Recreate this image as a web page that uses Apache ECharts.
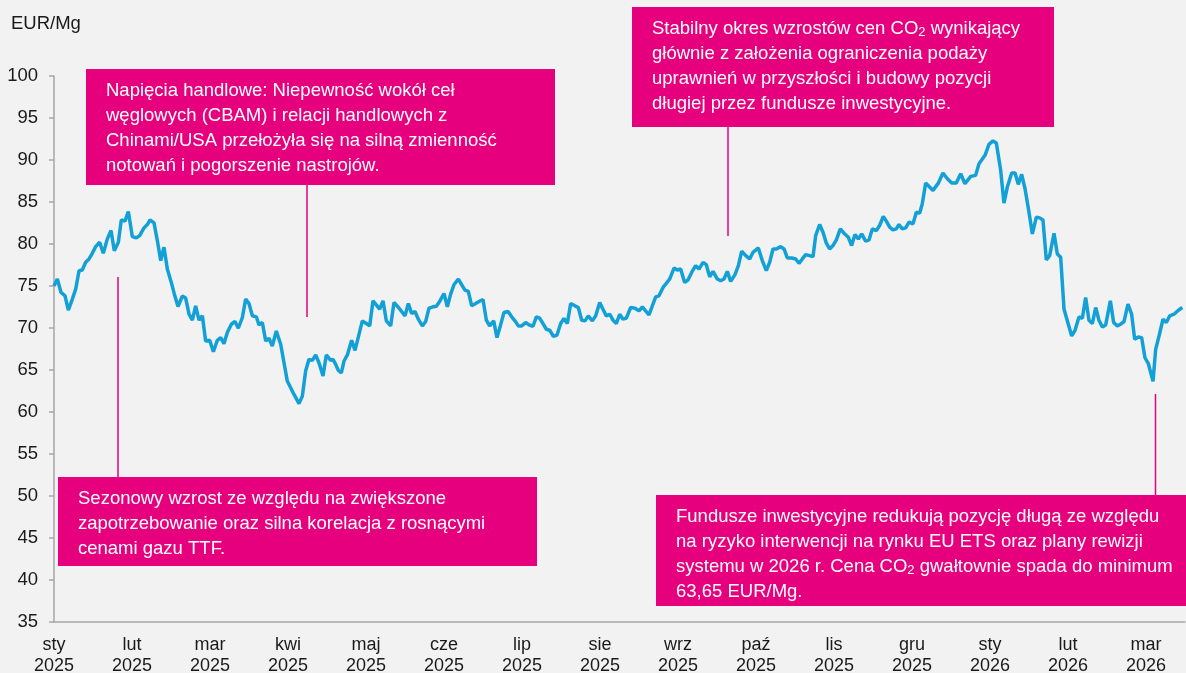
<!DOCTYPE html>
<html>
<head>
<meta charset="utf-8">
<script src="https://cdn.jsdelivr.net/npm/echarts@6/dist/echarts.min.js"></script>
<style>
  html, body { margin: 0; padding: 0; background: #F2F2F2; }
  #chart { width: 1186px; height: 673px; }
</style>
</head>
<body>
<div id="chart"></div>
<script>
// etykiety miesięcy (oś X, pozycja = numer miesiąca od sty 2025)
const monthLabels = ['sty\n2025', 'lut\n2025', 'mar\n2025', 'kwi\n2025', 'maj\n2025', 'cze\n2025',
  'lip\n2025', 'sie\n2025', 'wrz\n2025', 'paź\n2025', 'lis\n2025', 'gru\n2025',
  'sty\n2026', 'lut\n2026', 'mar\n2026'];

// pozycja notowania w miesiącach od początku 2025
const monthPos = [
  0, 0.043, 0.090, 0.141, 0.184, 0.235, 0.278, 0.321, 0.363, 0.406, 0.449, 0.491, 0.534, 0.585, 0.632, 0.684,
  0.731, 0.773, 0.825, 0.863, 0.910, 0.953, 1.004, 1.056, 1.098, 1.154, 1.197, 1.231, 1.282, 1.325, 1.368, 1.410,
  1.453, 1.504, 1.543, 1.590, 1.645, 1.688, 1.731, 1.774, 1.816, 1.859, 1.902, 1.944, 1.996, 2.043, 2.094, 2.137,
  2.179, 2.222, 2.274, 2.321, 2.363, 2.415, 2.457, 2.500, 2.543, 2.594, 2.628, 2.671, 2.714, 2.756, 2.799, 2.850,
  2.906, 2.949, 2.991, 3.034, 3.077, 3.141, 3.184, 3.226, 3.269, 3.312, 3.355, 3.397, 3.449, 3.491, 3.547, 3.577,
  3.611, 3.645, 3.684, 3.718, 3.761, 3.816, 3.859, 3.910, 3.953, 4.004, 4.047, 4.090, 4.132, 4.175, 4.218, 4.261,
  4.316, 4.359, 4.410, 4.457, 4.500, 4.543, 4.585, 4.628, 4.671, 4.722, 4.765, 4.808, 4.859, 4.902, 4.944, 5.000,
  5.043, 5.085, 5.128, 5.184, 5.226, 5.269, 5.312, 5.355, 5.406, 5.449, 5.500, 5.543, 5.585, 5.637, 5.679, 5.722,
  5.769, 5.821, 5.868, 5.910, 5.953, 5.996, 6.047, 6.090, 6.141, 6.184, 6.226, 6.269, 6.312, 6.355, 6.402, 6.449,
  6.496, 6.538, 6.581, 6.624, 6.679, 6.722, 6.765, 6.808, 6.850, 6.902, 6.944, 6.996, 7.038, 7.081, 7.124, 7.167,
  7.209, 7.252, 7.295, 7.338, 7.393, 7.449, 7.500, 7.543, 7.585, 7.628, 7.671, 7.714, 7.756, 7.808, 7.850, 7.893,
  7.949, 7.991, 8.034, 8.085, 8.128, 8.175, 8.226, 8.269, 8.321, 8.363, 8.406, 8.449, 8.504, 8.547, 8.590, 8.632,
  8.675, 8.731, 8.774, 8.816, 8.868, 8.919, 8.962, 9.030, 9.081, 9.132, 9.175, 9.218, 9.261, 9.316, 9.359, 9.402,
  9.457, 9.509, 9.551, 9.594, 9.637, 9.688, 9.731, 9.765, 9.816, 9.859, 9.902, 9.944, 9.987, 10.030, 10.081, 10.128,
  10.184, 10.226, 10.269, 10.312, 10.355, 10.406, 10.449, 10.491, 10.543, 10.585, 10.632, 10.671, 10.714, 10.756, 10.799, 10.833,
  10.876, 10.919, 10.962, 11.013, 11.056, 11.098, 11.132, 11.175, 11.226, 11.269, 11.338, 11.397, 11.453, 11.509, 11.568, 11.624,
  11.679, 11.752, 11.816, 11.859, 11.936, 11.987, 12.038, 12.081, 12.137, 12.179, 12.222, 12.278, 12.321, 12.363, 12.406, 12.449,
  12.500, 12.543, 12.594, 12.637, 12.679, 12.722, 12.765, 12.821, 12.863, 12.906, 12.949, 13.004, 13.047, 13.090, 13.141, 13.184,
  13.226, 13.269, 13.312, 13.355, 13.397, 13.440, 13.483, 13.543, 13.585, 13.632, 13.675, 13.718, 13.769, 13.816, 13.855, 13.902,
  13.944, 13.987, 14.030, 14.090, 14.124, 14.167, 14.218, 14.261, 14.303, 14.359, 14.415, 14.466
];

// cena uprawnień EUA, EUR/Mg
const price = [
  75.0, 75.83, 74.23, 73.84, 72.12, 73.44, 74.63, 76.82, 76.90, 77.82, 78.22, 78.89, 79.69, 80.21, 78.89, 80.61,
  81.6, 79.21, 80.21, 82.87, 82.72, 83.87, 80.89, 80.73, 81.0, 81.92, 82.32, 82.87, 82.52, 80.41, 78.02, 79.61,
  77.02, 75.43, 74.03, 72.56, 73.8, 73.56, 71.65, 70.93, 72.64, 70.93, 71.45, 68.46, 68.54, 67.18, 68.54, 68.86,
  68.14, 69.46, 70.45, 70.77, 69.97, 71.25, 73.44, 72.92, 71.45, 71.33, 70.37, 70.65, 68.46, 68.78, 67.86, 69.65,
  68.06, 65.87, 63.68, 62.88, 62.09, 61.0, 61.89, 64.88, 66.27, 66.15, 66.79, 65.87, 64.28, 66.79, 66.15, 66.27,
  65.67, 64.95, 64.67, 66.07, 66.79, 68.54, 67.34, 69.25, 70.85, 70.53, 70.25, 73.24, 72.76, 72.24, 73.24, 70.85,
  70.25, 73.04, 72.52, 71.96, 71.44, 72.92, 71.72, 71.96, 71.05, 70.25, 70.77, 72.36, 72.52, 72.6, 73.16, 74.11,
  72.52, 74.03, 75.15, 75.83, 75.15, 74.51, 74.35, 72.64, 72.92, 73.16, 73.4, 70.93, 70.25, 70.85, 68.86, 70.25,
  71.84, 71.96, 71.33, 70.85, 70.25, 70.25, 70.65, 70.37, 70.21, 71.33, 71.17, 70.53, 69.85, 69.73, 69.02, 69.17,
  70.53, 71.13, 70.53, 72.92, 72.64, 72.44, 70.93, 70.85, 71.44, 70.85, 71.44, 73.04, 72.24, 71.44, 71.64, 70.93,
  70.53, 71.64, 71.05, 71.17, 72.44, 72.36, 72.04, 72.52, 72.04, 71.56, 72.64, 73.71, 73.83, 74.83, 75.31, 75.83,
  77.14, 76.9, 77.02, 75.43, 75.71, 76.62, 77.42, 77.02, 77.82, 77.54, 76.1, 76.74, 75.83, 75.63, 75.83, 76.74,
  75.55, 76.35, 77.42, 79.13, 78.61, 78.22, 79.01, 79.53, 78.02, 76.82, 77.82, 79.41, 79.41, 79.69, 79.41, 78.34,
  78.34, 78.22, 77.7, 78.22, 78.73, 78.61, 78.49, 81.0, 82.32, 81.4, 80.09, 79.41, 79.81, 80.49, 81.8, 81.28,
  80.8, 79.81, 81.12, 80.6, 81.2, 80.33, 80.49, 81.8, 81.6, 82.2, 83.27, 82.72, 82.0, 81.68, 81.8, 82.32,
  81.8, 81.92, 82.6, 82.4, 83.79, 83.67, 84.79, 87.25, 86.78, 86.38, 87.25, 88.45, 87.77, 87.25, 87.25, 88.37,
  87.17, 88.05, 88.17, 89.56, 90.56, 91.87, 92.27, 92.03, 88.77, 84.86, 86.78, 88.45, 88.45, 87.1, 88.29, 86.58,
  83.79, 81.2, 83.19, 83.11, 82.87, 78.1, 78.61, 81.28, 78.81, 78.41, 72.24, 70.45, 69.05, 69.73, 71.32, 71.16,
  73.63, 70.92, 70.53, 72.44, 70.92, 70.13, 70.37, 73.23, 70.65, 70.25, 70.45, 70.77, 72.84, 71.64, 68.65, 68.93,
  68.85, 66.46, 65.75, 63.65, 67.46, 69.05, 71.04, 70.65, 71.44, 71.64, 72.12, 72.44
];

// teksty komentarzy
const noteTradeTension = [
  'Napięcia handlowe: Niepewność wokół ceł',
  'węglowych (CBAM) i relacji handlowych z',
  'Chinami/USA przełożyła się na silną zmienność',
  'notowań i pogorszenie nastrojów.'
];
const noteSeasonal = [
  'Sezonowy wzrost ze względu na zwiększone',
  'zapotrzebowanie oraz silna korelacja z rosnącymi',
  'cenami gazu TTF.'
];
const noteStable = [
  'Stabilny okres wzrostów cen CO{sub|2} wynikający',
  'głównie z założenia ograniczenia podaży',
  'uprawnień w przyszłości i budowy pozycji',
  'długiej przez fundusze inwestycyjne.'
];
const noteFunds = [
  'Fundusze inwestycyjne redukują pozycję długą ze względu',
  'na ryzyko interwencji na rynku EU ETS oraz plany rewizji',
  'systemu w 2026 r. Cena CO{sub|2} gwałtownie spada do minimum',
  '63,65 EUR/Mg.'
];

const FONT = '"Liberation Sans", Arial, sans-serif';
const PINK = '#E6007E';

// ramka komentarza + tekst
function noteBox(x, y, w, h, lines) {
  return [
    { type: 'rect', z: 100, shape: { x: x, y: y, width: w, height: h }, style: { fill: PINK } },
    {
      type: 'text', z: 101,
      style: {
        x: x + 20, y: y + 10, text: lines.join('\n'),
        fill: '#fff', fontSize: 18.5, fontFamily: FONT, lineHeight: 24.8, verticalAlign: 'top',
        rich: { sub: { fontSize: 13, fill: '#fff', fontFamily: FONT, padding: [6, 0, 0, 0] } }
      }
    }
  ];
}

function connector(x, y1, y2) {
  return { type: 'line', z: 99, shape: { x1: x, y1: y1, x2: x, y2: y2 }, style: { stroke: PINK, lineWidth: 1.5 } };
}

let chart = echarts.init(document.getElementById('chart'));

let option = {
  backgroundColor: '#F2F2F2',
  animation: false,
  title: {
    text: 'EUR/Mg', left: 6, top: 9,
    textStyle: { fontSize: 18.5, fontWeight: 'normal', color: '#1a1a1a', fontFamily: FONT }
  },
  grid: { left: 54, right: 1, top: 76, bottom: 51, outerBoundsMode: 'none' },
  xAxis: {
    type: 'value', min: 0, max: 14.5, interval: 1,
    axisLine: { show: true, lineStyle: { color: '#A6A6A6', width: 1.5 } },
    axisTick: { show: false },
    splitLine: { show: false },
    axisLabel: {
      margin: 13, color: '#1a1a1a', fontSize: 18, lineHeight: 21, fontFamily: FONT,
      showMaxLabel: false,
      formatter: function (v) {
        let k = Math.round(v);
        return Math.abs(v - k) < 1e-6 && monthLabels[k] ? monthLabels[k] : '';
      }
    }
  },
  yAxis: {
    type: 'value', min: 35, max: 100, interval: 5,
    axisLine: { show: true, onZero: false, lineStyle: { color: '#A6A6A6', width: 1.5 } },
    axisTick: { show: true, length: 5, lineStyle: { color: '#A6A6A6', width: 1.5 } },
    splitLine: { show: false },
    axisLabel: { margin: 16, color: '#1a1a1a', fontSize: 18.5, fontFamily: FONT }
  },
  series: [
    {
      type: 'line',
      data: monthPos.map((m, i) => [m, price[i]]),
      showSymbol: false,
      lineStyle: { color: '#12A0D7', width: 3.5 },
      itemStyle: { color: '#12A0D7' }
    }
  ],
  graphic: [].concat(
    noteBox(86, 69, 469, 116, noteTradeTension),
    noteBox(58, 477, 479, 89, noteSeasonal),
    noteBox(632, 7, 422, 120, noteStable),
    noteBox(656, 495, 530, 111, noteFunds),
    [
      connector(307, 185, 317),
      connector(118, 277, 477),
      connector(728, 127, 236),
      connector(1155.5, 394, 495)
    ]
  )
};

chart.setOption(option);
</script>
</body>
</html>
